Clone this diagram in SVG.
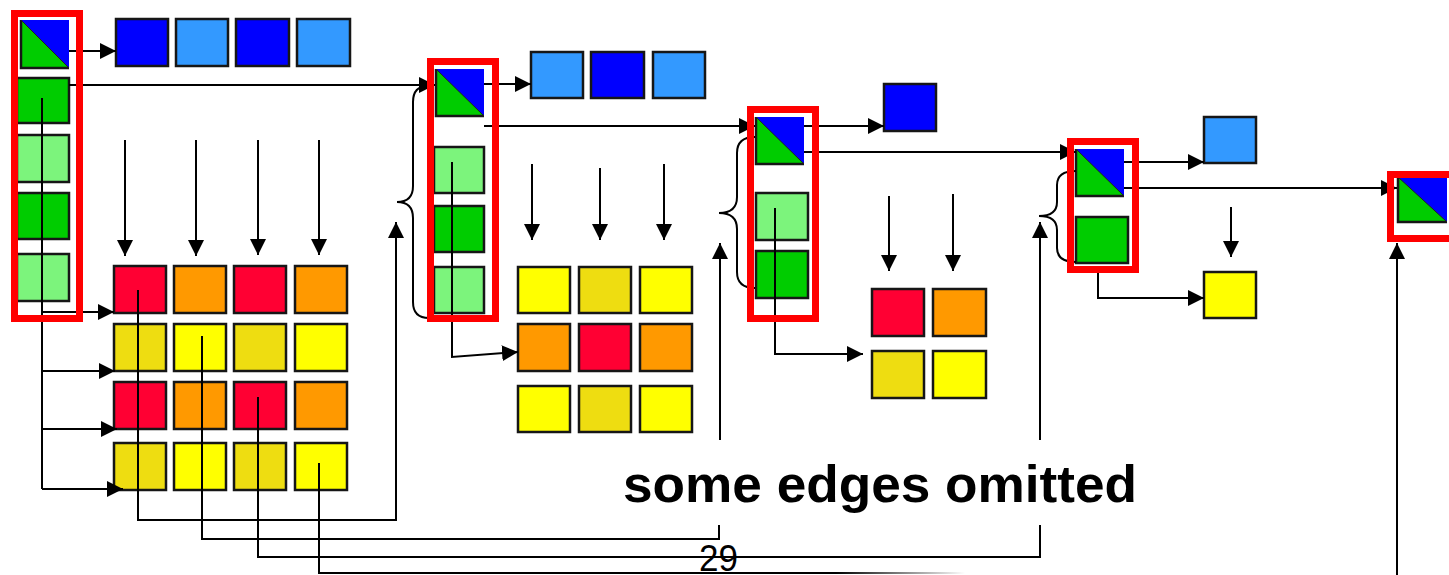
<svg xmlns="http://www.w3.org/2000/svg" width="1449" height="575" viewBox="0 0 1449 575">
  <style>
    .box { stroke: #161616; stroke-width: 2.5; }
    .b { fill: #0000FF; }
    .lb { fill: #3399FF; }
    .g { fill: #00CC00; }
    .lg { fill: #7CF47C; }
    .r { fill: #FF0033; }
    .o { fill: #FF9900; }
    .dy { fill: #EEDD11; }
    .y { fill: #FFFF00; }
    .tri-edge { fill: none; stroke: #161616; stroke-width: 2.5; }
    .diag { stroke: #222; stroke-width: 1; }
    .hl { fill: none; stroke: #FF0000; stroke-width: 7; }
    .c { fill: none; stroke: #000; stroke-width: 2; }
    .arr { marker-end: url(#ah); }
    .label { font-family: "Liberation Sans", Arial, sans-serif; fill: #000; }
  </style>
  <defs>
    <marker id="ah" viewBox="0 0 10 10" refX="10" refY="5" markerWidth="16" markerHeight="16" markerUnits="userSpaceOnUse" orient="auto">
      <path d="M0,0 L10,5 L0,10 z" fill="#000"/>
    </marker>
    <linearGradient id="fade" gradientUnits="userSpaceOnUse" x1="320" y1="0" x2="965" y2="0">
      <stop offset="0" stop-color="#000"/>
      <stop offset="0.8" stop-color="#000"/>
      <stop offset="1" stop-color="#fff"/>
    </linearGradient>
  </defs>

  <rect width="1449" height="575" fill="#fff"/>

  <!-- level 1 -->
  <g id="n1-head">
    <rect x="21" y="20" width="48" height="48" class="g"/>
    <polygon points="21,20 69,20 69,68" class="b"/>
    <polyline points="21,20 21,68 69,68" class="tri-edge"/>
    <line x1="21" y1="20" x2="69" y2="68" class="diag"/>
  </g>
  <g id="n1-adj">
    <rect x="17" y="78" width="52" height="45" class="box g"/>
    <rect x="17" y="135" width="52" height="47" class="box lg"/>
    <rect x="17" y="193" width="52" height="46" class="box g"/>
    <rect x="17" y="254" width="52" height="47" class="box lg"/>
  </g>
  <g id="n1-blue">
    <rect x="116" y="19" width="52" height="47" class="box b"/>
    <rect x="176" y="19" width="52" height="47" class="box lb"/>
    <rect x="236" y="19" width="53" height="47" class="box b"/>
    <rect x="297" y="19" width="53" height="47" class="box lb"/>
  </g>
  <g id="n1-grid">
    <rect x="114" y="266" width="52" height="47" class="box r"/>
    <rect x="174" y="266" width="52" height="47" class="box o"/>
    <rect x="234" y="266" width="52" height="47" class="box r"/>
    <rect x="295" y="266" width="52" height="47" class="box o"/>
    <rect x="114" y="324" width="52" height="47" class="box dy"/>
    <rect x="174" y="324" width="52" height="47" class="box y"/>
    <rect x="234" y="324" width="52" height="47" class="box dy"/>
    <rect x="295" y="324" width="52" height="47" class="box y"/>
    <rect x="114" y="382" width="52" height="47" class="box r"/>
    <rect x="174" y="382" width="52" height="47" class="box o"/>
    <rect x="234" y="382" width="52" height="47" class="box r"/>
    <rect x="295" y="382" width="52" height="47" class="box o"/>
    <rect x="114" y="443" width="52" height="47" class="box dy"/>
    <rect x="174" y="443" width="52" height="47" class="box y"/>
    <rect x="234" y="443" width="52" height="47" class="box dy"/>
    <rect x="295" y="443" width="52" height="47" class="box y"/>
  </g>

  <!-- level 2 -->
  <g id="n2-head">
    <rect x="436" y="69" width="48" height="47" class="g"/>
    <polygon points="436,69 484,69 484,116" class="b"/>
    <polyline points="436,69 436,116 484,116" class="tri-edge"/>
    <line x1="436" y1="69" x2="484" y2="116" class="diag"/>
  </g>
  <g id="n2-adj">
    <rect x="434" y="147" width="50" height="46" class="box lg"/>
    <rect x="434" y="206" width="50" height="46" class="box g"/>
    <rect x="434" y="267" width="50" height="46" class="box lg"/>
  </g>
  <g id="n2-blue">
    <rect x="531" y="52" width="52" height="46" class="box lb"/>
    <rect x="591" y="52" width="53" height="46" class="box b"/>
    <rect x="653" y="52" width="52" height="46" class="box lb"/>
  </g>
  <g id="n2-grid">
    <rect x="518" y="267" width="52" height="46" class="box y"/>
    <rect x="579" y="267" width="52" height="46" class="box dy"/>
    <rect x="640" y="267" width="52" height="46" class="box y"/>
    <rect x="518" y="324" width="52" height="47" class="box o"/>
    <rect x="579" y="324" width="52" height="47" class="box r"/>
    <rect x="640" y="324" width="52" height="47" class="box o"/>
    <rect x="518" y="386" width="52" height="46" class="box y"/>
    <rect x="579" y="386" width="52" height="46" class="box dy"/>
    <rect x="640" y="386" width="52" height="46" class="box y"/>
  </g>

  <!-- level 3 -->
  <g id="n3-head">
    <rect x="756" y="117" width="48" height="47" class="g"/>
    <polygon points="756,117 804,117 804,164" class="b"/>
    <polyline points="756,117 756,164 804,164" class="tri-edge"/>
    <line x1="756" y1="117" x2="804" y2="164" class="diag"/>
  </g>
  <g id="n3-adj">
    <rect x="756" y="193" width="52" height="47" class="box lg"/>
    <rect x="756" y="251" width="52" height="47" class="box g"/>
  </g>
  <g id="n3-blue">
    <rect x="884" y="84" width="52" height="47" class="box b"/>
  </g>
  <g id="n3-grid">
    <rect x="872" y="289" width="52" height="47" class="box r"/>
    <rect x="933" y="289" width="53" height="47" class="box o"/>
    <rect x="872" y="351" width="52" height="47" class="box dy"/>
    <rect x="933" y="351" width="53" height="47" class="box y"/>
  </g>

  <!-- level 4 -->
  <g id="n4-head">
    <rect x="1076" y="149" width="48" height="47" class="g"/>
    <polygon points="1076,149 1124,149 1124,196" class="b"/>
    <polyline points="1076,149 1076,196 1124,196" class="tri-edge"/>
    <line x1="1076" y1="149" x2="1124" y2="196" class="diag"/>
  </g>
  <g id="n4-adj">
    <rect x="1076" y="217" width="52" height="46" class="box g"/>
  </g>
  <g id="n4-blue">
    <rect x="1204" y="117" width="52" height="46" class="box lb"/>
  </g>
  <g id="n4-grid">
    <rect x="1204" y="272" width="52" height="46" class="box y"/>
  </g>

  <!-- level 5 -->
  <g id="n5-head">
    <rect x="1398" y="177" width="49" height="45" class="g"/>
    <polygon points="1398,177 1447,177 1447,222" class="b"/>
    <polyline points="1398,177 1398,222 1447,222" class="tri-edge"/>
    <line x1="1398" y1="177" x2="1447" y2="222" class="diag"/>
  </g>

  <g id="connectors">
    <!-- level 1 -->
    <line x1="69" y1="51" x2="116" y2="51" class="c arr"/>
    <line x1="69" y1="85" x2="435" y2="85" class="c arr"/>
    <line x1="125" y1="140" x2="125" y2="256" class="c arr"/>
    <line x1="196" y1="140" x2="196" y2="256" class="c arr"/>
    <line x1="258" y1="140" x2="258" y2="255" class="c arr"/>
    <line x1="319" y1="140" x2="319" y2="255" class="c arr"/>
    <polyline points="42,98 42,489" class="c"/>
    <line x1="42" y1="312" x2="114" y2="312" class="c arr"/>
    <line x1="42" y1="371" x2="115" y2="371" class="c arr"/>
    <line x1="42" y1="429" x2="117" y2="429" class="c arr"/>
    <line x1="42" y1="489" x2="123" y2="489" class="c arr"/>
    <polyline points="138,290 138,520 396,520 396,222" class="c arr"/>
    <polyline points="202,336 202,539 719,539 719,525" class="c"/>
    <polyline points="258,397 258,557 1040,557 1040,525" class="c"/>
    <polyline points="319,463 319,573 965,573" fill="none" stroke="url(#fade)" stroke-width="2"/>
    <!-- level 2 -->
    <line x1="484" y1="84" x2="531" y2="84" class="c arr"/>
    <line x1="484" y1="126" x2="755" y2="126" class="c arr"/>
    <line x1="532" y1="164" x2="532" y2="240" class="c arr"/>
    <line x1="600" y1="168" x2="600" y2="240" class="c arr"/>
    <line x1="664" y1="164" x2="664" y2="240" class="c arr"/>
    <polyline points="452,162 452,357 518,352" class="c arr"/>
    <line x1="720" y1="440" x2="720" y2="243" class="c arr"/>
    <!-- level 3 -->
    <line x1="804" y1="126" x2="884" y2="126" class="c arr"/>
    <line x1="804" y1="152" x2="1076" y2="152" class="c arr"/>
    <line x1="889" y1="196" x2="889" y2="271" class="c arr"/>
    <line x1="953" y1="194" x2="953" y2="271" class="c arr"/>
    <polyline points="775,208 775,354 863,354" class="c arr"/>
    <line x1="1040" y1="440" x2="1040" y2="222" class="c arr"/>
    <!-- level 4 -->
    <line x1="1124" y1="162" x2="1204" y2="162" class="c arr"/>
    <line x1="1124" y1="188" x2="1397" y2="188" class="c arr"/>
    <line x1="1231" y1="207" x2="1231" y2="257" class="c arr"/>
    <polyline points="1098,273 1098,298 1204,298" class="c arr"/>
    <line x1="1397" y1="575" x2="1397" y2="243" class="c arr"/>
    <!-- braces grouping the adjacency cells -->
    <path d="M428,86 Q413,86 413,102 L413,186 Q413,202 397,202 Q413,202 413,218 L413,302 Q413,318 429,318" class="c"/>
    <path d="M755,137 Q737,137 737,153 L737,197 Q737,213 719,213 Q737,213 737,229 L737,272 Q737,288 755,288" class="c"/>
    <path d="M1076,171 Q1057,171 1057,185 L1057,202 Q1057,216 1039,216 Q1057,216 1057,230 L1057,248 Q1057,262 1076,262" class="c"/>
  </g>

  <g id="highlights">
    <rect x="14.5" y="13.5" width="65" height="305" class="hl"/>
    <rect x="430.5" y="61.5" width="65" height="257" class="hl"/>
    <rect x="750.5" y="109.5" width="65" height="209" class="hl"/>
    <rect x="1070.5" y="141.5" width="65" height="128" class="hl"/>
    <rect x="1390.5" y="174.5" width="80" height="64" class="hl"/>
  </g>

  <text x="623" y="502" class="label" font-size="52" font-weight="bold" textLength="514" lengthAdjust="spacingAndGlyphs">some edges omitted</text>
  <text x="699" y="571" class="label" font-size="36" textLength="39" lengthAdjust="spacingAndGlyphs">29</text>
</svg>
